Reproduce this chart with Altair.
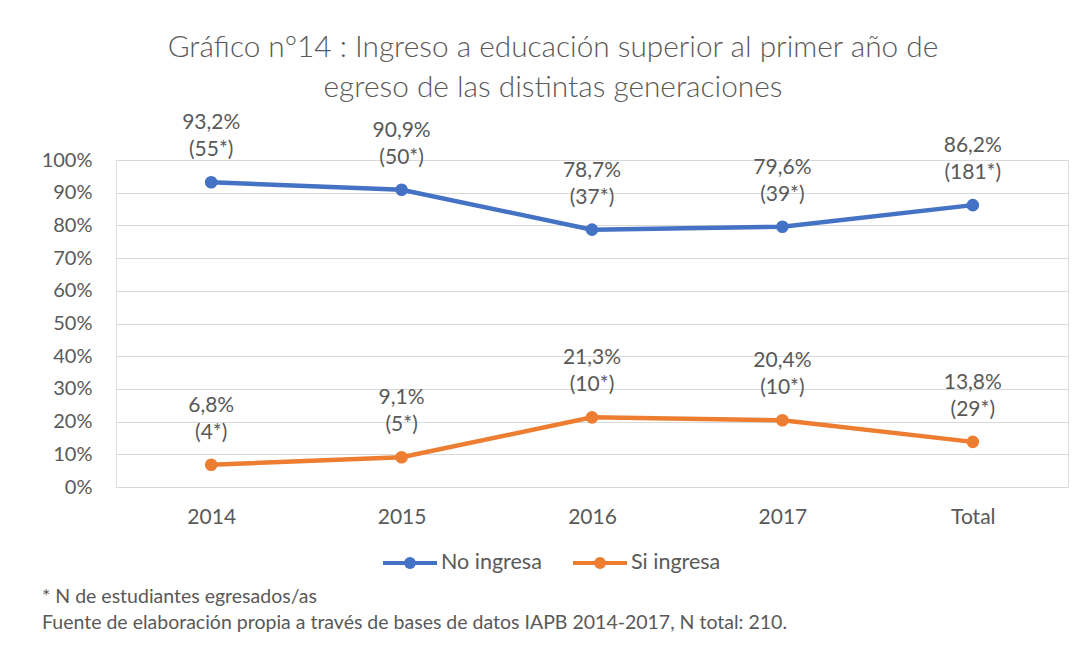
import altair as alt
import pandas as pd

categories = ["2014", "2015", "2016", "2017", "Total"]
no_ingresa = [93.2, 90.9, 78.7, 79.6, 86.2]
no_ingresa_n = [55, 50, 37, 39, 181]
si_ingresa = [6.8, 9.1, 21.3, 20.4, 13.8]
si_ingresa_n = [4, 5, 10, 10, 29]
series_names = ["No ingresa", "Si ingresa"]
series_colors = ["#4472C4", "#ED7D31"]
y_ticks = [0, 10, 20, 30, 40, 50, 60, 70, 80, 90, 100]

title_lines = ["Gráfico n°14 : Ingreso a educación superior al primer año de",
               "egreso de las distintas generaciones"]
foot_lines = ["* N de estudiantes egresados/as",
              "Fuente de elaboración propia a través de bases de datos IAPB 2014-2017, N total: 210."]

FONT = "Lato"
GRAY = "#595959"

rows = []
for name, vals, ns in [(series_names[0], no_ingresa, no_ingresa_n),
                       (series_names[1], si_ingresa, si_ingresa_n)]:
    for c, v, n in zip(categories, vals, ns):
        rows.append({"cat": c, "serie": name, "value": v,
                     "label": f"{v:.1f}".replace(".", ",") + "%\n(" + str(n) + "*)"})
df = pd.DataFrame(rows)

W, H = 952, 327

x_enc = alt.X("cat:N", sort=categories, scale=alt.Scale(type="point", padding=0.5),
              axis=alt.Axis(title=None, labelAngle=0, ticks=False, domain=False, grid=False,
                            labelFont=FONT, labelFontSize=21, labelColor=GRAY, labelPadding=19))
y_enc = alt.Y("value:Q", scale=alt.Scale(domain=[0, 100], nice=False),
              axis=alt.Axis(title=None, values=y_ticks, labelExpr="datum.value + '%'",
                            ticks=False, domain=False, grid=True, gridColor="#d9d9d9",
                            gridWidth=1, labelFont=FONT, labelFontSize=20, labelColor=GRAY,
                            labelPadding=24))
color_enc = alt.Color("serie:N", scale=alt.Scale(domain=series_names, range=series_colors),
                      legend=None)

base = alt.Chart(df)
lines = base.mark_line(strokeWidth=4.5).encode(x=x_enc, y=y_enc, color=color_enc)
points = base.mark_circle(size=160, opacity=1).encode(x=x_enc, y=y_enc, color=color_enc)
labels = base.mark_text(font=FONT, fontSize=21, color=GRAY, lineBreak="\n", lineHeight=27,
                        baseline="middle", align="center", dy=-59).encode(
    x=x_enc, y=y_enc, text="label:N")

one = pd.DataFrame({"k": [0]})

frame = alt.Chart(one).mark_rect(fill="transparent", stroke="#d9d9d9", strokeWidth=2).encode(
    x=alt.value(-109), x2=alt.value(2000), y=alt.value(-155), y2=alt.value(2000))

title_layers = []
for i, t in enumerate(title_lines):
    title_layers.append(alt.Chart(one).mark_text(font=FONT, fontSize=29.8, fontWeight=300,
                                                 color=GRAY, align="center", baseline="middle",
                                                 text=t).encode(
        x=alt.value(437), y=alt.value(-112 + 40 * i)))

foot_layers = []
for i, t in enumerate(foot_lines):
    foot_layers.append(alt.Chart(one).mark_text(font=FONT, fontSize=19.5, color=GRAY,
                                                align="left", baseline="middle", text=t).encode(
        x=alt.value(-74), y=alt.value(437 + 26 * i)))

legend_layers = []
leg_x = [267, 457]
for name, col, lx in zip(series_names, series_colors, leg_x):
    legend_layers.append(alt.Chart(one).mark_rule(color=col, strokeWidth=4).encode(
        x=alt.value(lx), x2=alt.value(lx + 54), y=alt.value(403)))
    legend_layers.append(alt.Chart(one).mark_circle(color=col, size=140, opacity=1).encode(
        x=alt.value(lx + 27), y=alt.value(403)))
    legend_layers.append(alt.Chart(one).mark_text(font=FONT, fontSize=21.5, color=GRAY,
                                                  align="left", baseline="middle", text=name).encode(
        x=alt.value(lx + 58), y=alt.value(403)))

chart = alt.layer(frame, lines, points, labels, *title_layers, *foot_layers, *legend_layers).properties(
    width=W, height=H, autosize="none",
    padding={"left": 108, "top": 152, "right": 11, "bottom": 152},
).configure_view(stroke=None).configure(background="white")

chart.save("out.html", embed_options={"renderer": "svg", "actions": False})
